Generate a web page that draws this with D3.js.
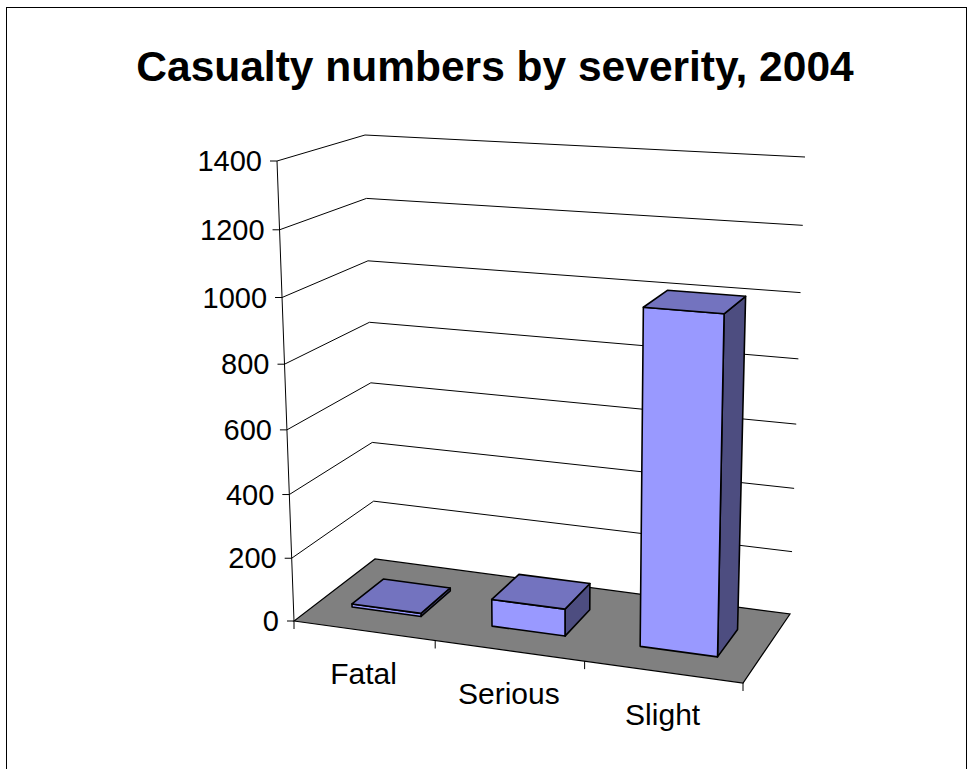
<!DOCTYPE html>
<html>
<head>
<meta charset="utf-8">
<script src="https://cdn.jsdelivr.net/npm/d3@7"></script>
<style>
  html, body { margin: 0; padding: 0; background: #fff; }
  svg { display: block; }
  text { font-family: "Liberation Sans", Arial, sans-serif; fill: #000; }
</style>
</head>
<body>
<svg id="chart" width="971" height="769"></svg>
<script>
// ---- data ----
const title = "Casualty numbers by severity, 2004";
const categories = ["Fatal", "Serious", "Slight"];
const values = [10, 85, 1020];
const yTicks = [0, 200, 400, 600, 800, 1000, 1200, 1400];

// ---- layout: 3D "camera" of the plot box (floor corners and top corners) ----
const floorFL = [294, 621], floorFR = [743, 683], floorBL = [375, 559], floorBR = [790, 614];
const topFL = [277, 161], topFR = [753, 192], topBL = [365, 135], topBR = [805, 157];
const persX = 1.09, persY = 1.055;   // perspective foreshortening along x and height
const depth0 = 0.3, depth1 = 0.7;    // bar depth inside the box

const svg = d3.select("#chart");

const xBand = d3.scaleBand().domain(categories).range([0, 1]).paddingInner(0.5).paddingOuter(0.25);
const yScale = d3.scaleLinear().domain([0, 1400]).range([0, 1]);

function warp(t, m) { return t / (t + m * (1 - t)); }
function bilerp(p00, p10, p01, p11, a, b) {
  return [
    (1 - a) * (1 - b) * p00[0] + a * (1 - b) * p10[0] + (1 - a) * b * p01[0] + a * b * p11[0],
    (1 - a) * (1 - b) * p00[1] + a * (1 - b) * p10[1] + (1 - a) * b * p01[1] + a * b * p11[1]
  ];
}
// u: 0..1 across categories, v: 0..1 depth (front->back), t: 0..1 height
function project(u, v, t) {
  const w = warp(u, persX), g = warp(t, persY);
  const f = bilerp(floorFL, floorFR, floorBL, floorBR, w, v);
  const tp = bilerp(topFL, topFR, topBL, topBR, w, v);
  return [f[0] + g * (tp[0] - f[0]), f[1] + g * (tp[1] - f[1])];
}
const line = d3.line();

// outer border
svg.append("rect").attr("x", 6.5).attr("y", 7.5).attr("width", 960).attr("height", 780)
  .attr("fill", "none").attr("stroke", "#000").attr("stroke-width", 1);

// title
svg.append("text").attr("x", 495).attr("y", 81).attr("text-anchor", "middle")
  .attr("font-size", 42.5).attr("font-weight", "bold").text(title);

// gridlines on the walls
svg.append("g").selectAll("path").data(yTicks.filter(d => d > 0)).join("path")
  .attr("d", d => line([project(0, 0, yScale(d)), project(0, 1, yScale(d)), project(1, 1, yScale(d))]))
  .attr("fill", "none").attr("stroke", "#000").attr("stroke-width", 1);

// floor
svg.append("path")
  .attr("d", line([project(0, 0, 0), project(1, 0, 0), project(1, 1, 0), project(0, 1, 0)]) + "Z")
  .attr("fill", "#808080").attr("stroke", "#000").attr("stroke-width", 1.2);

// value axis
svg.append("path").attr("d", line([project(0, 0, 0), project(0, 0, 1)]))
  .attr("stroke", "#000").attr("stroke-width", 1).attr("fill", "none");
const yAxisG = svg.append("g");
yAxisG.selectAll("line").data(yTicks).join("line")
  .attr("x1", d => project(0, 0, yScale(d))[0] - 7)
  .attr("x2", d => project(0, 0, yScale(d))[0])
  .attr("y1", d => project(0, 0, yScale(d))[1])
  .attr("y2", d => project(0, 0, yScale(d))[1])
  .attr("stroke", "#000").attr("stroke-width", 1);
yAxisG.selectAll("text").data(yTicks).join("text")
  .attr("x", d => project(0, 0, yScale(d))[0] - 15)
  .attr("y", d => project(0, 0, yScale(d))[1] + 10)
  .attr("text-anchor", "end").attr("font-size", 29).text(d => d);

// category axis ticks and labels
const catBounds = d3.range(categories.length + 1).map(i => i * xBand.step());
svg.append("g").selectAll("line").data(catBounds).join("line")
  .attr("x1", d => project(d, 0, 0)[0]).attr("x2", d => project(d, 0, 0)[0])
  .attr("y1", d => project(d, 0, 0)[1]).attr("y2", d => project(d, 0, 0)[1] + 8)
  .attr("stroke", "#000").attr("stroke-width", 1);
svg.append("g").selectAll("text").data(categories).join("text")
  .attr("x", d => project(xBand(d) + xBand.bandwidth() / 2, 0, 0)[0])
  .attr("y", d => project(xBand(d) + xBand.bandwidth() / 2, 0, 0)[1] + 53)
  .attr("text-anchor", "middle").attr("font-size", 30).text(d => d);

// bars
const bars = categories.map((c, i) => ({ c, v: values[i], u0: xBand(c), u1: xBand(c) + xBand.bandwidth() }));
const barG = svg.append("g").selectAll("g").data(bars).join("g");
function face(pts) { return line(pts) + "Z"; }
barG.append("path") // right side
  .attr("d", d => { const t = yScale(d.v); return face([project(d.u1, depth0, 0), project(d.u1, depth1, 0), project(d.u1, depth1, t), project(d.u1, depth0, t)]); })
  .attr("fill", "#4D4D80");
barG.append("path") // front
  .attr("d", d => { const t = yScale(d.v); return face([project(d.u0, depth0, 0), project(d.u1, depth0, 0), project(d.u1, depth0, t), project(d.u0, depth0, t)]); })
  .attr("fill", "#9999FF");
barG.append("path") // top
  .attr("d", d => { const t = yScale(d.v); return face([project(d.u0, depth0, t), project(d.u1, depth0, t), project(d.u1, depth1, t), project(d.u0, depth1, t)]); })
  .attr("fill", "#7373BF");
barG.selectAll("path").attr("stroke", "#000").attr("stroke-width", 1.6).attr("stroke-linejoin", "round");
</script>
</body>
</html>
